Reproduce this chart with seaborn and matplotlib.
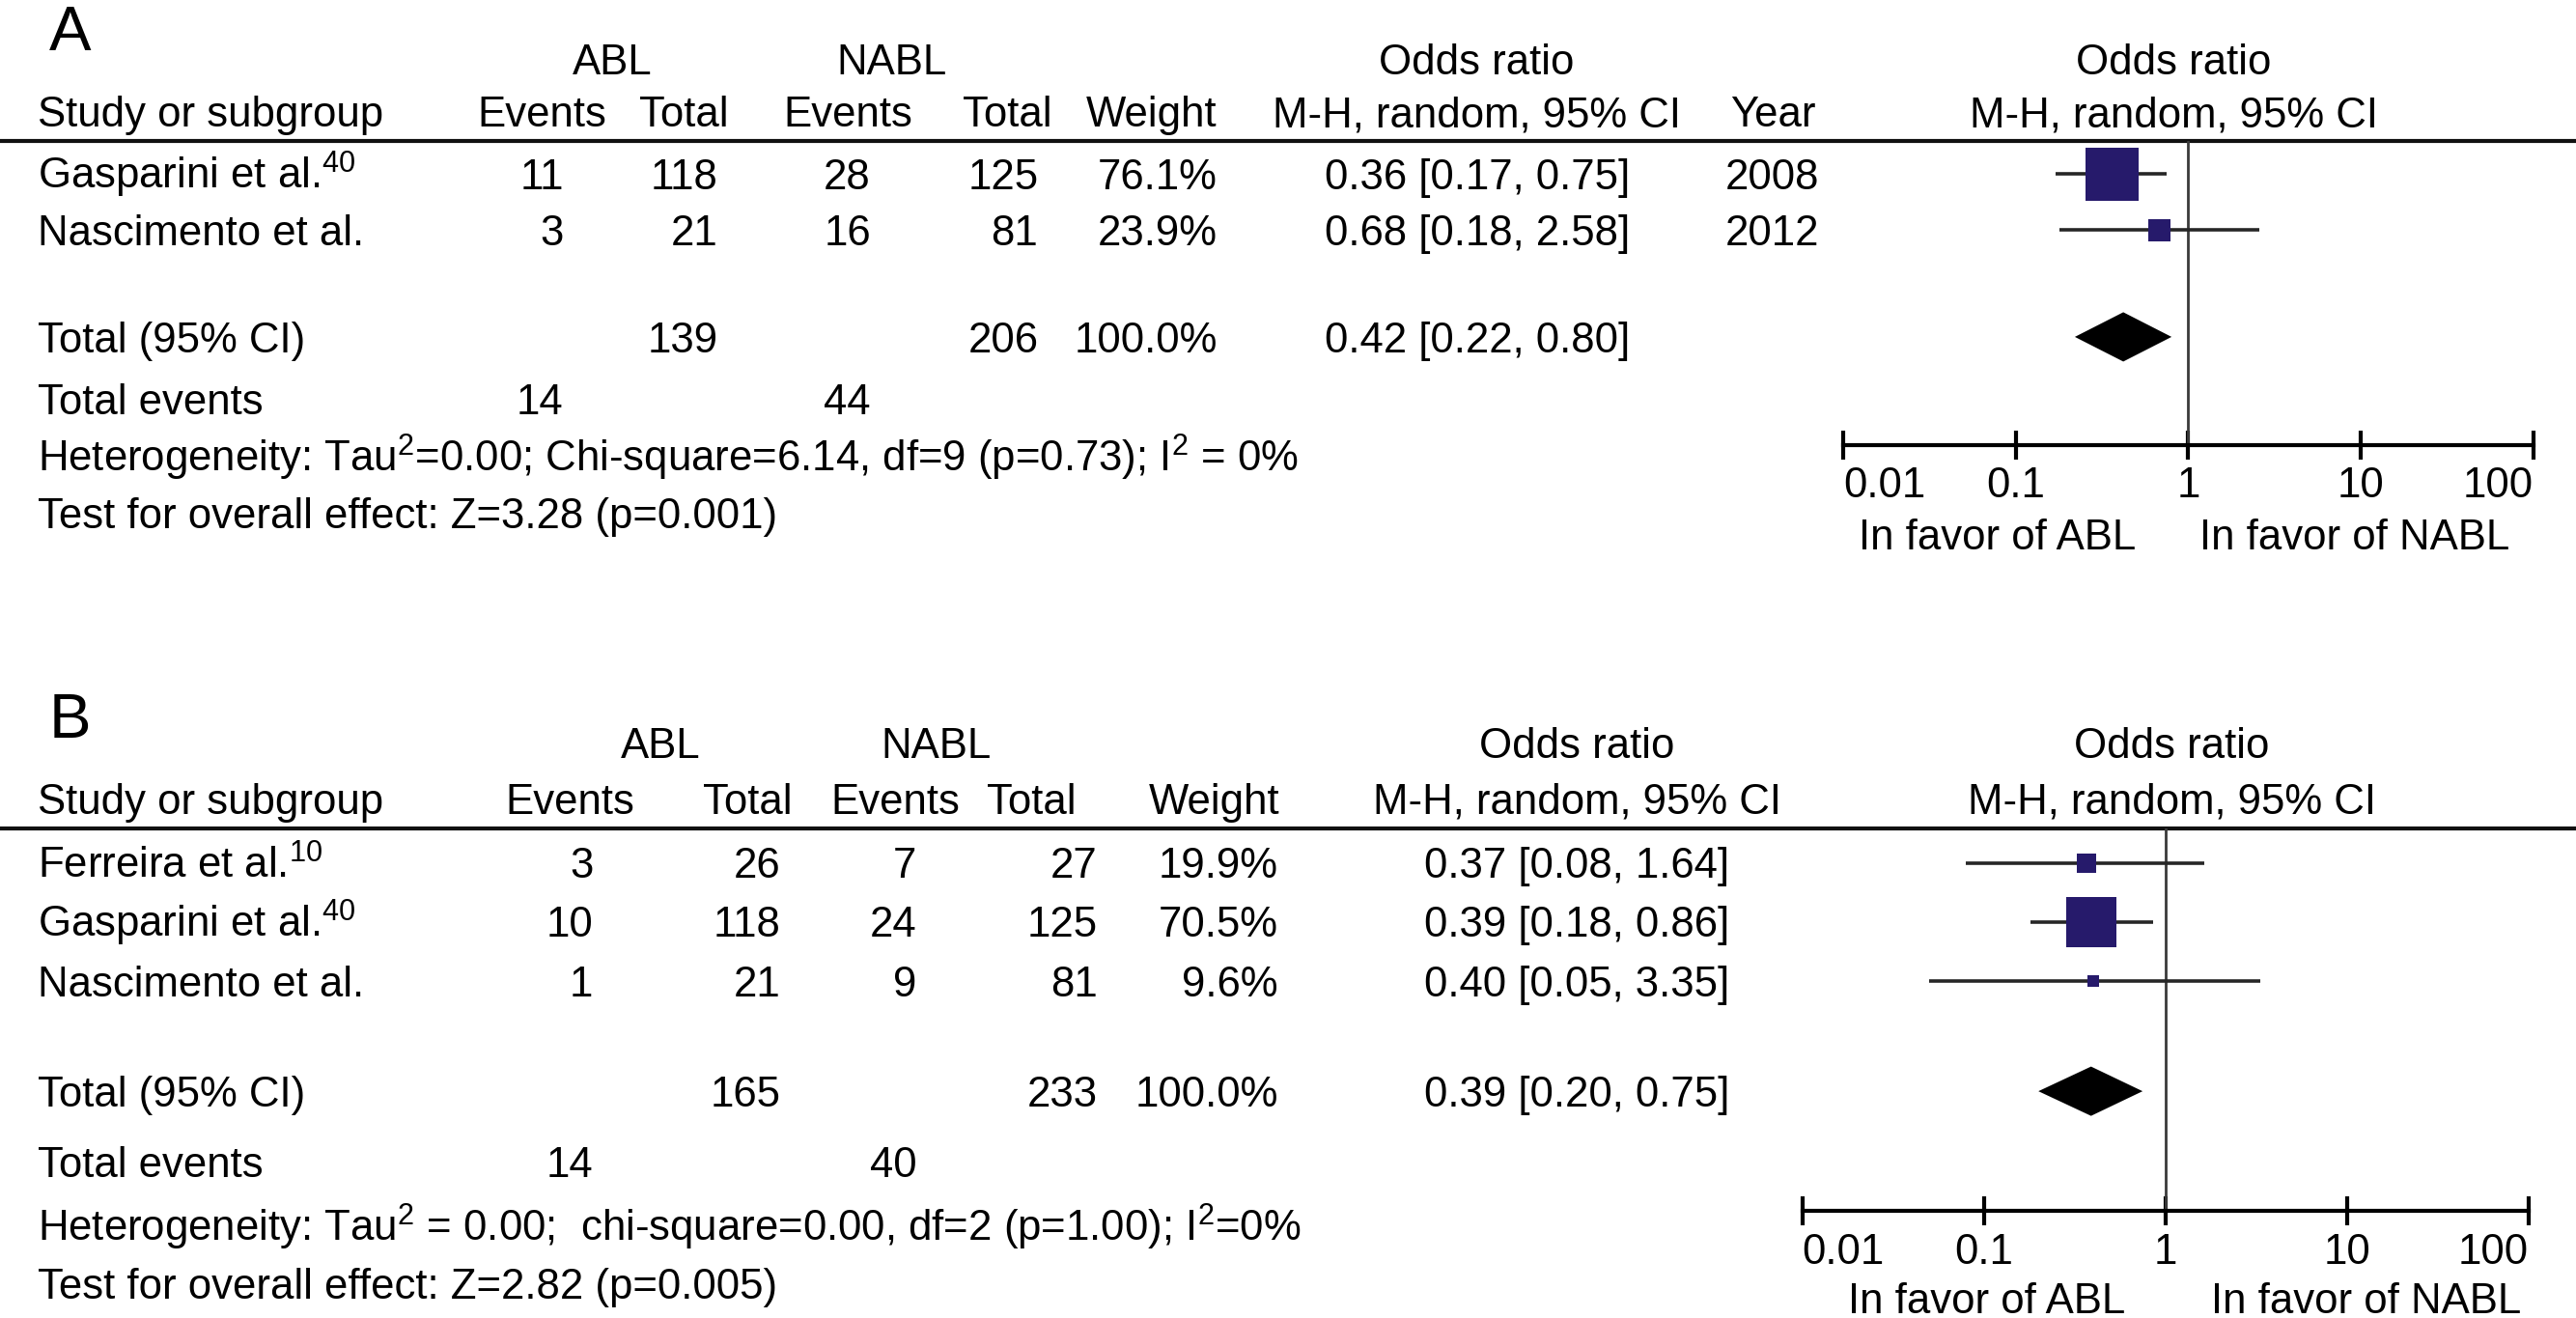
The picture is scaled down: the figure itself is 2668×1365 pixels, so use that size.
"""
Forest plot (ABL vs NABL) - dois painéis, recriado com seaborn/matplotlib.
"""

import matplotlib
matplotlib.use("Agg")
import matplotlib.pyplot as plt
import matplotlib.ticker as mticker
import pandas as pd
import seaborn as sns

# Configurar estilo
sns.set_theme(style="white")
plt.rcParams['font.family'] = ['Liberation Sans', 'DejaVu Sans']
plt.rcParams['mathtext.fontset'] = 'custom'
plt.rcParams['mathtext.rm'] = 'Liberation Sans'
plt.rcParams['mathtext.it'] = 'Liberation Sans:italic'
plt.rcParams['mathtext.bf'] = 'Liberation Sans:bold'

# ---------------- Dados: painel A ----------------
studies_a = ["Gasparini et al.$^{\\mathrm{40}}$", "Nascimento et al."]
abl_events_a = [11, 3]
abl_total_a = [118, 21]
nabl_events_a = [28, 16]
nabl_total_a = [125, 81]
weight_a = [76.1, 23.9]
or_a = [0.36, 0.68]
or_low_a = [0.17, 0.18]
or_high_a = [0.75, 2.58]
year_a = [2008, 2012]
totals_a = [139, 206]          # ABL, NABL
pooled_a = [0.42, 0.22, 0.80]  # OR, IC inferior, IC superior
events_a = [14, 44]
het_a = "Heterogeneity: Tau$^{\\mathrm{2}}$=0.00; Chi-square=6.14, df=9 (p=0.73); I$^{\\mathrm{2}}$ = 0%"
test_a = "Test for overall effect: Z=3.28 (p=0.001)"

# ---------------- Dados: painel B ----------------
studies_b = ["Ferreira et al.$^{\\mathrm{10}}$", "Gasparini et al.$^{\\mathrm{40}}$", "Nascimento et al."]
abl_events_b = [3, 10, 1]
abl_total_b = [26, 118, 21]
nabl_events_b = [7, 24, 9]
nabl_total_b = [27, 125, 81]
weight_b = [19.9, 70.5, 9.6]
or_b = [0.37, 0.39, 0.40]
or_low_b = [0.08, 0.18, 0.05]
or_high_b = [1.64, 0.86, 3.35]
totals_b = [165, 233]
pooled_b = [0.39, 0.20, 0.75]
events_b = [14, 40]
het_b = "Heterogeneity: Tau$^{\\mathrm{2}}$ = 0.00;  chi-square=0.00, df=2 (p=1.00); I$^{\\mathrm{2}}$=0%"
test_b = "Test for overall effect: Z=2.82 (p=0.005)"

tick_values = [0.01, 0.1, 1, 10, 100]
tick_labels = ["0.01", "0.1", "1", "10", "100"]

# ---------------- Layout (unidades de 1568 x 802) ----------------
W, H = 1568, 802
FS = 31.5
NAVY = "#261a6b"

lay_a = dict(label=("A", 30, 17), group_y=36, head_y=68, line_y=86,
             rows=[106, 140], total_y=205, events_y=243, het_y=278, test_y=312,
             abl_x=373, nabl_x=543, or_x=899, year_x=1079,
             ev1=(330, 343), tot1=(416, 437), ev2=(516, 530), tot2=(613, 632),
             wt=(701, 741), forest=(1122, 1542, 271), plot_x=1323,
             favor=(1216, 1433, 325))

lay_b = dict(label=("B", 30, 435), group_y=452, head_y=486, line_y=504,
             rows=[525, 561, 597], total_y=664, events_y=707, het_y=746, test_y=781,
             abl_x=402, nabl_x=570, or_x=960, year_x=None,
             ev1=(347, 361), tot1=(455, 475), ev2=(545, 558), tot2=(628, 668),
             wt=(739, 778), forest=(1097, 1539, 737), plot_x=1322,
             favor=(1209, 1440, 790))


def base(y, fs=FS):
    """Centro visual da linha -> baseline do texto."""
    return y + 0.358 * fs / 0.72 / 1.7015


def txt(cv, x, y, s, ha="center", fs=FS):
    cv.text(x, base(y, fs), s, ha=ha, va="baseline", fontsize=fs, color="black")


def fmt_or(o, lo, hi):
    return f"{o:.2f} [{lo:.2f}, {hi:.2f}]"


def draw_table(cv, lay, studies, ev1, tot1, ev2, tot2, weights, ors, lows, highs,
               years, totals, pooled, events, het, test):
    lab, lx, ly = lay["label"]
    txt(cv, lx, ly, lab, ha="left", fs=47)

    # cabeçalhos
    txt(cv, lay["abl_x"], lay["group_y"], "ABL")
    txt(cv, lay["nabl_x"], lay["group_y"], "NABL")
    txt(cv, lay["or_x"], lay["group_y"], "Odds ratio")
    txt(cv, lay["plot_x"], lay["group_y"], "Odds ratio")
    hy = lay["head_y"]
    txt(cv, 23, hy, "Study or subgroup", ha="left")
    txt(cv, lay["ev1"][0], hy, "Events")
    txt(cv, lay["tot1"][0], hy, "Total")
    txt(cv, lay["ev2"][0], hy, "Events")
    txt(cv, lay["tot2"][0], hy, "Total")
    txt(cv, lay["wt"][0], hy, "Weight")
    txt(cv, lay["or_x"], hy, "M-H, random, 95% CI")
    if lay["year_x"] is not None:
        txt(cv, lay["year_x"], hy, "Year")
    txt(cv, lay["plot_x"], hy, "M-H, random, 95% CI")
    cv.axhline(lay["line_y"], color="#111111", lw=3)

    # estudos
    for i, y in enumerate(lay["rows"]):
        txt(cv, 23, y, studies[i], ha="left")
        txt(cv, lay["ev1"][1], y, str(ev1[i]), ha="right")
        txt(cv, lay["tot1"][1], y, str(tot1[i]), ha="right")
        txt(cv, lay["ev2"][1], y, str(ev2[i]), ha="right")
        txt(cv, lay["tot2"][1], y, str(tot2[i]), ha="right")
        txt(cv, lay["wt"][1], y, f"{weights[i]:.1f}%", ha="right")
        txt(cv, lay["or_x"], y, fmt_or(ors[i], lows[i], highs[i]))
        if years is not None:
            txt(cv, lay["year_x"], y, str(years[i]))

    # total
    ty = lay["total_y"]
    txt(cv, 23, ty, "Total (95% CI)", ha="left")
    txt(cv, lay["tot1"][1], ty, str(totals[0]), ha="right")
    txt(cv, lay["tot2"][1], ty, str(totals[1]), ha="right")
    txt(cv, lay["wt"][1], ty, f"{sum(weights):.1f}%", ha="right")
    txt(cv, lay["or_x"], ty, fmt_or(*pooled))

    ey = lay["events_y"]
    txt(cv, 23, ey, "Total events", ha="left")
    txt(cv, lay["ev1"][1], ey, str(events[0]), ha="right")
    txt(cv, lay["ev2"][1], ey, str(events[1]), ha="right")
    txt(cv, 23, lay["het_y"], het, ha="left")
    txt(cv, 23, lay["test_y"], test, ha="left")

    fx, fnx, fy = lay["favor"]
    txt(cv, fx, fy, "In favor of ABL")
    txt(cv, fnx, fy, "In favor of NABL")


def draw_forest(fig, lay, ors, lows, highs, weights, pooled):
    x0, x1, y_axis = lay["forest"]
    y_top = lay["line_y"]
    ax = fig.add_axes([x0 / W, 1 - y_axis / H, (x1 - x0) / W, (y_axis - y_top) / H])
    ax.patch.set_alpha(0)

    df = pd.DataFrame({"or": ors, "low": lows, "high": highs,
                       "row": lay["rows"], "weight": weights})
    ax.axvline(1, color="#3a3a3a", lw=2.0, zorder=1)
    ax.hlines(df["row"], df["low"], df["high"], color="#262626", lw=2.6, zorder=2)
    sizes = {w: (1.53 * w ** 0.75) ** 2 for w in weights}
    sns.scatterplot(data=df, x="or", y="row", size="weight", sizes=sizes,
                    marker="s", color=NAVY, linewidth=0, legend=False,
                    ax=ax, zorder=3)

    est, lo, hi = pooled
    yd = lay["total_y"]
    h = 15
    ax.fill([lo, est, hi, est], [yd, yd - h, yd, yd + h], color="black", lw=0, zorder=3)

    ax.set_xscale("log")
    ax.set_xlim(0.01, 100)
    ax.set_ylim(y_axis, y_top)
    ax.set_xlabel("")
    ax.set_ylabel("")
    ax.set_yticks([])
    ax.xaxis.set_minor_locator(mticker.NullLocator())
    ax.set_xticks(tick_values)
    ax.set_xticklabels(tick_labels, fontsize=FS)
    labs = ax.get_xticklabels()
    labs[0].set_ha("left")
    labs[-1].set_ha("right")
    ax.tick_params(axis="x", which="major", bottom=True, direction="inout",
                   length=22, width=3, pad=5, color="black", labelcolor="black")
    for side in ["top", "left", "right"]:
        ax.spines[side].set_visible(False)
    ax.spines["bottom"].set_linewidth(3)
    ax.spines["bottom"].set_color("black")
    return ax


def main():
    fig = plt.figure(figsize=(26.68, 13.65), dpi=100)
    cv = fig.add_axes([0, 0, 1, 1])
    cv.set_xlim(0, W)
    cv.set_ylim(H, 0)
    cv.axis("off")

    draw_table(cv, lay_a, studies_a, abl_events_a, abl_total_a, nabl_events_a,
               nabl_total_a, weight_a, or_a, or_low_a, or_high_a, year_a,
               totals_a, pooled_a, events_a, het_a, test_a)
    draw_forest(fig, lay_a, or_a, or_low_a, or_high_a, weight_a, pooled_a)

    draw_table(cv, lay_b, studies_b, abl_events_b, abl_total_b, nabl_events_b,
               nabl_total_b, weight_b, or_b, or_low_b, or_high_b, None,
               totals_b, pooled_b, events_b, het_b, test_b)
    draw_forest(fig, lay_b, or_b, or_low_b, or_high_b, weight_b, pooled_b)

    fig.savefig("out.png", dpi=100, facecolor="white")
    plt.close(fig)


if __name__ == "__main__":
    main()
